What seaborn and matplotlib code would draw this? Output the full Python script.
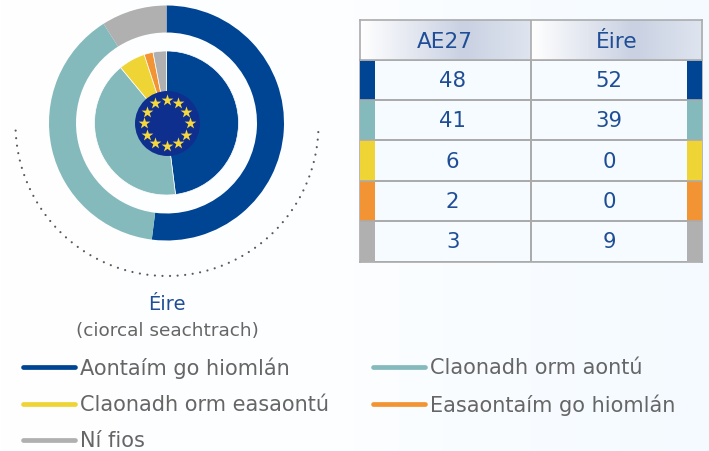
import numpy as np
import pandas as pd
import matplotlib
matplotlib.use("Agg")
import matplotlib.pyplot as plt
from matplotlib.colors import ListedColormap, LinearSegmentedColormap
from matplotlib.patches import Rectangle
import seaborn as sns

categories = ["Aontaím go hiomlán", "Claonadh orm aontú", "Claonadh orm easaontú",
              "Easaontaím go hiomlán", "Ní fios"]
ae27 = [48, 41, 6, 2, 3]
eire = [52, 39, 0, 0, 9]
columns = ["AE27", "Éire"]
colors = ["#004494", "#85BABC", "#EED535", "#F39434", "#B0B0B0"]

W, H = 709, 452
sns.set_theme(style="white")
plt.rcParams["font.family"] = ["DejaVu Sans"]
TXT = "#1F4E96"
GREY = "#666666"
LINE = "#ABABAB"

fig = plt.figure(figsize=(W / 100, H / 100), dpi=100)

# background gradient
bg = fig.add_axes([0, 0, 1, 1], zorder=0)
bg.imshow(np.linspace(0, 1, 256).reshape(1, -1), aspect="auto",
          cmap=LinearSegmentedColormap.from_list("bg", ["#FFFFFF", "#FCFEFF", "#F4FAFF"]))
bg.axis("off")

ax = fig.add_axes([0, 0, 1, 1], zorder=1)
ax.patch.set_alpha(0)
cx, cy = 166.5, H - 124
ax.pie(eire, colors=colors, radius=117.5, center=(cx, cy), startangle=90, counterclock=False,
       wedgeprops=dict(width=27, linewidth=0))
ax.pie(ae27, colors=colors, radius=72, center=(cx, cy), startangle=90, counterclock=False,
       wedgeprops=dict(linewidth=0.5, edgecolor="white"))
ax.set_xlim(0, W)
ax.set_ylim(0, H)
ax.set_aspect("auto")
ax.axis("off")

# EU flag in the centre
th = np.radians(np.arange(0, 360, 30))
ax.scatter([cx], [cy], s=(65 * 0.72) ** 2, color="#0F2F8F", linewidths=0, zorder=5)
ax.scatter(cx + 23 * np.cos(th), cy + 23 * np.sin(th), marker="*", s=78, color="#F6D83E",
           linewidths=0, zorder=6)

# dotted arc
a = np.radians(np.linspace(182.3, 359, 300))
ax.plot(167 + 151.5 * np.cos(a), H - 125.5 + 151.5 * np.sin(a), color="#5A5A5A", lw=1.6,
        linestyle=(0, (0.01, 3.4)), dash_capstyle="round")

ax.text(167, H - 304, "Éire", color=TXT, fontsize=14, ha="center", va="center")
ax.text(167, H - 331, "(ciorcal seachtrach)", color=GREY, fontsize=13.3, ha="center", va="center")

# legend
pos = [(21, 368), (371, 368), (21, 405), (371, 405), (21, 441)]
for name, col, (x, y) in zip(categories, colors, pos):
    ax.plot([x + 2, x + 54], [H - y, H - y], color=col, lw=3.4, solid_capstyle="round")
    ax.text(x + 59, H - y, name, color=GREY, fontsize=15, ha="left", va="center")

# table body
tx0, tx1, ty0, ty1 = 359.5, 702, 60.5, 262.5
tab = fig.add_axes([tx0 / W, 1 - ty1 / H, (tx1 - tx0) / W, (ty1 - ty0) / H], zorder=2)
df = pd.DataFrame({"AE27": ae27, "Éire": eire}, index=categories)
sns.heatmap(df, ax=tab, cmap=ListedColormap(["#F5FBFF"]), annot=False, cbar=False,
            linewidths=1.2, linecolor=LINE, xticklabels=False, yticklabels=False)
tab.set_xlabel(""); tab.set_ylabel("")
sw = 15 / ((tx1 - tx0) / 2)
for i, col in enumerate(colors):
    tab.add_patch(Rectangle((0, i), sw, 1, facecolor=col, edgecolor="none", zorder=3))
    tab.add_patch(Rectangle((2 - sw, i), sw, 1, facecolor=col, edgecolor="none", zorder=3))
    tab.plot([0, 2], [i, i], color=LINE, lw=1.2, zorder=4)
    tab.text(0.5 + sw / 2, i + 0.5, str(ae27[i]), color=TXT, fontsize=15.3, ha="center",
             va="center", zorder=5)
    tab.text(1.5 - sw / 2, i + 0.5, str(eire[i]), color=TXT, fontsize=15.3, ha="center",
             va="center", zorder=5)
for s in tab.spines.values():
    s.set_visible(True); s.set_color(LINE); s.set_linewidth(1.2)

# table header
hd = fig.add_axes([tx0 / W, 1 - ty0 / H, (tx1 - tx0) / W, 40 / H], zorder=2)
grad = LinearSegmentedColormap.from_list("hd", ["#FFFFFF", "#C9D1E2", "#DFE5EF"])
g = np.r_[np.linspace(0, .5, 120), np.linspace(.5, 1, 80)]
for i in range(2):
    hd.imshow(g.reshape(1, -1), extent=(i, i + 1, 0, 1), aspect="auto", cmap=grad, vmin=0, vmax=1)
    hd.text(i + 0.5, 0.47, columns[i], color=TXT, fontsize=15.6, ha="center", va="center")
hd.set_xlim(0, 2); hd.set_ylim(0, 1)
hd.axvline(1, color=LINE, lw=1.2)
hd.set_xticks([]); hd.set_yticks([])
for s in hd.spines.values():
    s.set_visible(True); s.set_color(LINE); s.set_linewidth(1.2)

fig.savefig("out.png", dpi=100)
